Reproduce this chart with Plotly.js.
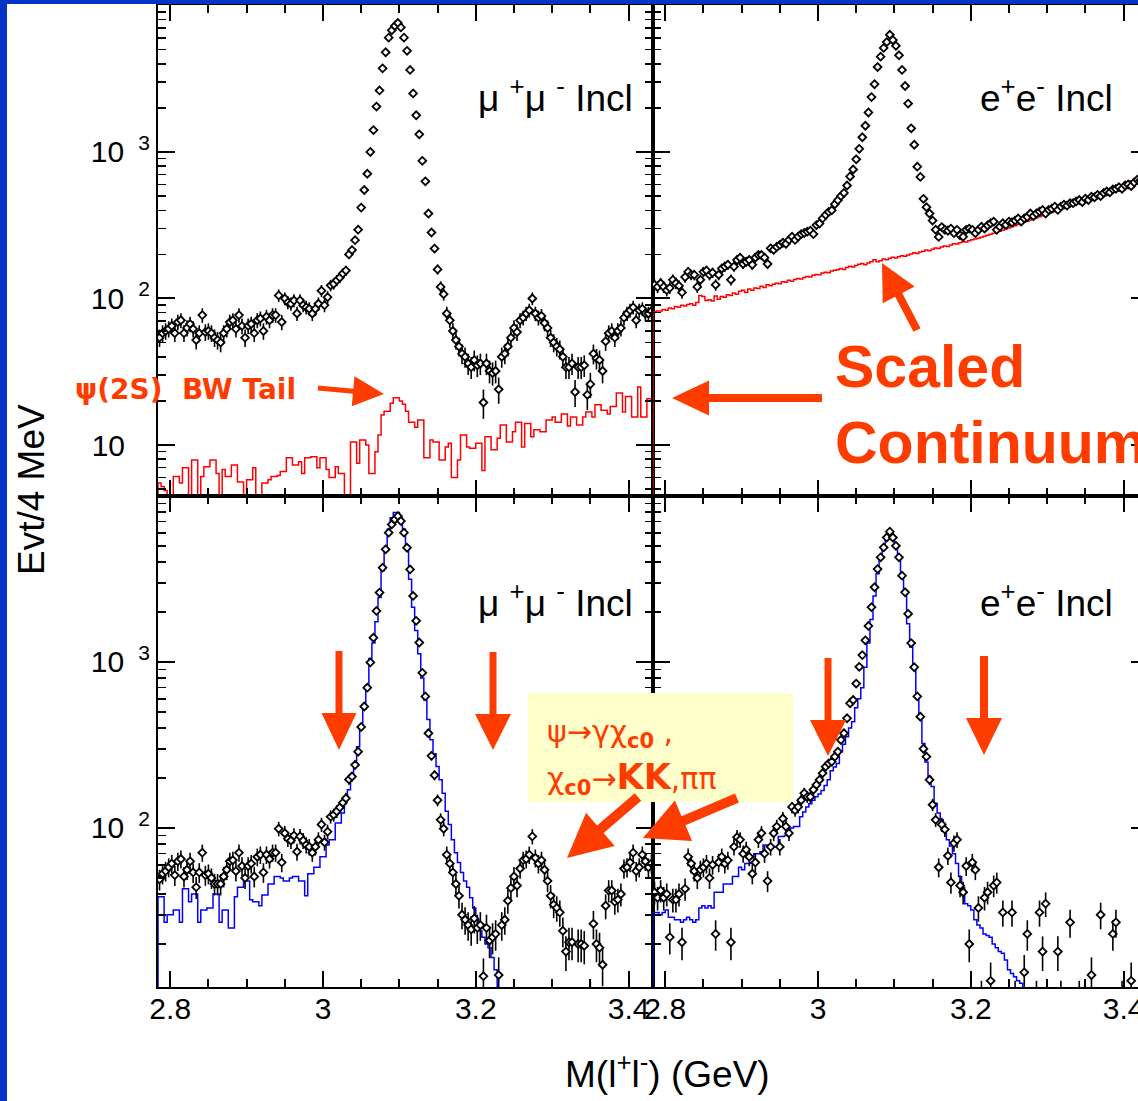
<!DOCTYPE html>
<html>
<head>
<meta charset="utf-8">
<script src="https://cdn.plot.ly/plotly-3.0.1.min.js"></script>
<style>
html,body{margin:0;padding:0;overflow:hidden;background:#ffffff;width:1138px;height:1101px;}
#chart{width:1148px;height:1101px;}
</style>
</head>
<body>
<div id="chart"></div>
<script>
// ---------- binning (4 MeV bins, first bin centre) ----------
const MASS_FIRST_BIN = 2.786;
const BIN_WIDTH = 0.004;
const HIST_FLOOR = 0.001;           // histogram drawn up from zero

// ---------- axis ticks ----------
const X_RANGE = [2.784, 3.432];
const TOP_LOG_RANGE = [0.652, 4.003];
const BOTTOM_LOG_RANGE = [1.042, 4.0];
const TOP_Y_TICKS = [10, 100, 1000];
const TOP_Y_LABELS = ['10\u00a0\u00a0\u00a0', '10\u00a0<sup>\u00a02</sup>', '10\u00a0<sup>\u00a03</sup>'];
const BOTTOM_Y_TICKS = [100, 1000];
const BOTTOM_Y_LABELS = ['10\u00a0<sup>\u00a02</sup>', '10\u00a0<sup>\u00a03</sup>'];

// ---------- top-left: mu+mu- inclusive data and scaled continuum ----------
const MUMU_DATA = [54,58,60,62,65,58,69,71,58,63,
 67,62,52,58,77,59,60,58,54,52,
 50,58,62,69,71,62,77,65,54,65,
 67,58,71,73,60,75,71,77,77,105,
 69,100,94,92,97,79,97,90,87,85,
 79,85,92,113,90,102,123,126,133,139,
 148,155,200,214,250,295,417,550,710,1000,
 1410,2040,2630,3720,4790,6030,6760,7240,7590,7080,
 6030,4900,3630,2510,1780,1320,870,630,380,282,
 219,158,120,107,79,71,60,52,47,42,
 40,36,34,38,35,36,19.5,36,32,31,
 32,24,40,42,47,54,63,59,71,74,
 79,83,100,79,74,76,68,63,54,50,
 47,45,40,34,34,36,23,34,34,35,
 22,26,42,39,38,32,51,58,60,54,
 60,63,74,79,83,87,71,83,85,79,
 79,82];
const MUMU_CONTINUUM = [5.5,5.2,4.9,4,4,6.1,6.1,5.5,7.0,7.0,
 4,7.9,7.9,4,6.1,7.1,7.1,7.9,7.9,6.4,
 4,6.8,6.1,6.1,7.3,7.3,5.6,5.6,4,5.8,
 5.8,7.0,4,4,5.5,5.5,5.8,6.1,6.1,6.2,
 6.6,6.6,8.2,8.2,7.3,7.3,7.7,6.4,8.2,8.2,
 8.3,8.3,7.0,8.2,8.2,6.8,6.0,6.0,7.1,6.4,
 6.4,4,4,10.5,10.5,7.5,10.8,10.8,10,6.4,
 6.4,9,11.7,16,17,17,19.3,21,21,20,
 19,17,14.3,14.3,13.2,14.8,14.8,8.2,8.2,10.8,
 10.5,10.5,7.9,7.9,9.7,10.3,6,6,7.9,11.7,
 11.7,9.7,9.5,9.5,10.3,10.3,6.7,11.4,11.4,9.3,
 9.3,11.1,13.7,13.7,10.5,10.5,12.3,14.3,14.3,9.7,
 14,14,11.4,12.7,12.7,12.3,12.3,14.8,14.8,15.5,
 14.3,14.3,16.3,16.3,13.5,15.5,15.5,13.7,13.7,15.5,
 16.8,16.8,15.5,18.8,18.8,17.3,17.3,16.3,18.3,18.3,
 22.6,22.6,16.8,21.4,21.4,15.5,15.5,24.9,15.5,15.5,
 20.7,20.7];

// ---------- top-right: e+e- inclusive data and scaled continuum ----------
const EE_DATA = [124,120,127,120,114,118,134,127,122,110,
 140,152,145,145,120,134,152,155,145,150,
 124,145,160,165,170,134,165,183,190,172,
 178,183,170,190,198,198,190,172,220,215,
 225,232,240,236,251,264,251,264,275,280,
 286,290,275,317,325,352,372,390,400,440,
 468,500,525,590,680,759,891,1050,1260,1510,
 1860,2370,2900,3800,4470,5130,5620,6310,5800,5300,
 4570,3630,2820,2140,1450,1120,794,676,479,420,
 380,340,295,263,307,294,290,300,279,294,
 270,264,294,300,294,279,294,309,300,315,
 326,335,294,309,326,318,335,330,340,352,
 335,352,360,380,365,380,392,402,380,402,
 410,424,402,424,437,430,447,447,460,470,
 455,480,470,495,490,510,500,525,537,530,
 555,560,575,560,590,600,585,620,646,640,
 665,680];
const EE_CONTINUUM = [81,82,82,84,83,86,85,88,87,90,
 89,91,92,90,94,105,103,97,98,96,
 104,99,103,102,106,105,109,107,112,114,
 110,116,114,118,117,121,119,124,122,125,
 127,126,130,129,133,131,135,137,136,139,
 141,140,144,146,145,149,151,150,154,156,
 157,160,158,163,166,164,168,171,173,170,
 175,178,184,178,181,186,184,188,191,189,
 193,196,194,198,201,205,203,208,210,214,
 212,217,221,219,225,228,226,232,236,235,
 240,244,243,248,252,255,258,262,266,270,
 274,279,283,288,292,298,303,309,314,320,
 325,331,337,343,349,355,361,367,373,380,
 386,393,400,406,413,420,428,437,445,455,
 464,473,482,492,502,512,521,531,541,550,
 562,573,585,597,610,622,635,648,660,672,
 685,698];

// ---------- bottom-left: mu+mu- after continuum subtraction, J/psi MC ----------
const MUMU_SUB_DATA = [49,53,55,58,61,52,63,65,51,56,
 63,54,44,54,71,52,53,50,46,46,
 46,51,56,63,64,55,71,59,50,59,
 61,51,67,69,54,69,65,71,71,99,
 62,93,86,84,90,72,89,84,79,77,
 71,77,85,105,82,95,117,120,126,133,
 142,151,196,204,240,288,406,539,700,994,
 1400,2030,2620,3700,4770,6010,6740,7220,7570,7060,
 6010,4880,3610,2500,1770,1310,860,620,372,272,
 208,147,112,99,69,61,54,46,39,30,
 28,26,24.5,28.5,25,26,12.8,25,21,22,
 23,13,26,28,36.5,43.5,51,45,57,64,
 65,69,89,66,61,64,56,48,39,34.5,
 33,31,24,18,20.5,20.5,7.5,20,20,19.5,
 5,9,26.5,20,19,15,34,42,42,36,
 37,40,57,58,62,71,55,58,69,63,
 58,61];
const MUMU_JPSI_MC = [38.5,38.5,27,30,30,32,32,27,43,43,
 36,40,40,27,32,32,33,33,40,40,
 27,32,32,25,25,38.5,44,44,48,48,
 37,36,36,34,39.5,39.5,46,46,51,51,
 50,48,48,50,51,51,48,48,39,53,
 53,58,58,67,67,79,85,85,107,107,
 123,155,170,214,240,309,400,520,720,1050,
 1300,1750,2450,3550,4800,6300,7400,7950,7950,7400,
 6300,4800,3150,2140,1550,1120,800,590,450,340,
 280,235,195,162,126,105,85,71,62,54,
 48,44,38,33,28,24,22,20,19,16.6,
 14,8];

// ---------- bottom-right: e+e- after continuum subtraction, J/psi MC ----------
const EE_SUB_DATA = [41,38,42,38,40,22,37,37,40,20.5,
 43,67,61,55,50,56,58,61,50,60,
 23,62,67,61,64,20.5,77,88,85,70,
 74,67,53,62,85,93,70,48,77,93,
 102,77,114,102,93,134,128,134,147,162,
 154,154,170,182,195,214,234,245,251,269,
 288,339,372,458,564,590,741,935,1100,1350,
 1650,2140,2820,3630,4270,4900,5620,6100,5620,5010,
 4270,3310,2630,1950,1300,930,620,468,300,269,
 195,138,112,58,105,98,68,47,81,85,
 45,41,59,20,62,56,33,9,38,41,
 12,45,47,6,31,8,5,31,9,6,
 4,13.5,23,7,5,9,31,18,35,8,
 6,4,18,9,5,7,27,8,5,9,
 6,4,8,13,5,8,30,6,4,8,
 23,27,6,9,5,7,12,5,8,6,
 4,7];
const EE_JPSI_MC = [31,31,30,31,32,29,29,28,28,27,
 28,29,28,27,28,33,34,33,34,33,
 41,41,41,46,46,46,51,51,58,56,
 61,61,62,70,70,72,79,79,78,77,
 77,89,89,90,96,100,102,102,117,125,
 134,140,147,154,160,168,180,195,221,233,
 245,288,320,354,400,437,530,600,700,930,
 1300,1800,2500,3400,4200,4900,5600,6150,5700,5000,
 4300,3400,2600,1700,1230,935,620,468,323,250,
 204,178,141,123,112,97,85,78,70,61,
 51,44,35,34,32,28,26,25,23,22.5,
 22,20,19,18,17.6,16,14,13.3,12.7,12,
 11.6,9];

// ---------- figure geometry ----------
const FIG_W = 1148, FIG_H = 1101;
const MARGIN = {l: 158, r: 0, t: 5, b: 114, pad: 0};
const PLOT_W = FIG_W - MARGIN.l - MARGIN.r;
const PLOT_H = FIG_H - MARGIN.t - MARGIN.b;
function px(x) { return (x - MARGIN.l) / PLOT_W; }
function py(y) { return (FIG_H - MARGIN.b - y) / PLOT_H; }

const ORANGE = '#ff3c00';
const TICK_FONT = {family: 'Liberation Sans, Arial, sans-serif', size: 30, color: '#000'};
const LABEL_FONT = {family: 'Liberation Sans, Arial, sans-serif', size: 37, color: '#000'};

function pointsTrace(y, xa, ya) {
  return {type: 'scatter', mode: 'markers', x0: MASS_FIRST_BIN, dx: BIN_WIDTH, y: y,
    xaxis: xa, yaxis: ya,
    marker: {symbol: 'diamond', size: 6, color: '#ffffff', line: {color: '#000', width: 1.8}},
    error_y: {type: 'sqrt', color: '#000', thickness: 1.6, width: 0},
    showlegend: false, hoverinfo: 'skip'};
}
function stepTrace(y, color, xa, ya) {
  return {type: 'scatter', mode: 'lines', x0: MASS_FIRST_BIN - BIN_WIDTH, dx: BIN_WIDTH,
    y: [HIST_FLOOR].concat(y), xaxis: xa, yaxis: ya,
    line: {shape: 'hvh', color: color, width: 1.5},
    showlegend: false, hoverinfo: 'skip'};
}

const traces = [
  stepTrace(MUMU_CONTINUUM, '#ff0000', 'x', 'y'),
  pointsTrace(MUMU_DATA, 'x', 'y'),
  stepTrace(EE_CONTINUUM, '#ff0000', 'x2', 'y2'),
  pointsTrace(EE_DATA, 'x2', 'y2'),
  stepTrace(MUMU_JPSI_MC, '#0000ff', 'x3', 'y3'),
  pointsTrace(MUMU_SUB_DATA, 'x3', 'y3'),
  stepTrace(EE_JPSI_MC, '#0000ff', 'x4', 'y4'),
  pointsTrace(EE_SUB_DATA, 'x4', 'y4')
];

function xAxis(domain, anchor, labels) {
  return {domain: domain, anchor: anchor, range: X_RANGE, showline: true, linecolor: '#000', linewidth: 2,
    mirror: 'allticks', ticks: 'inside', ticklen: 16, tickwidth: 2, tickcolor: '#000',
    tickmode: 'linear', tick0: 2.8, dtick: 0.2, showticklabels: labels, tickfont: TICK_FONT,
    ticklabelstandoff: -6,
    showgrid: false, zeroline: false, fixedrange: true,
    minor: {ticks: 'inside', ticklen: 8, tickwidth: 2, tickcolor: '#000', tick0: 2.8, dtick: 0.05, showgrid: false}};
}
function yAxis(domain, anchor, range, vals, texts, labels) {
  return {domain: domain, anchor: anchor, type: 'log', range: range, showline: true, linecolor: '#000', linewidth: 2,
    mirror: 'allticks', ticks: 'inside', ticklen: 17, tickwidth: 2, tickcolor: '#000',
    tickmode: 'array', tickvals: vals, ticktext: texts, showticklabels: labels, tickfont: TICK_FONT,
    ticklabelstandoff: 0, showgrid: false, zeroline: false, fixedrange: true,
    minor: {ticks: 'inside', ticklen: 8, tickwidth: 1.5, tickcolor: '#000', dtick: 'D1', showgrid: false}};
}

function arrowPath(tip, tail, shaftW, headLen, headW) {
  const dx = tip[0] - tail[0], dy = tip[1] - tail[1];
  const L = Math.hypot(dx, dy);
  const ux = dx / L, uy = dy / L, nx = -uy, ny = ux;
  const bx = tip[0] - ux * headLen, by = tip[1] - uy * headLen;
  const pts = [
    [tail[0] + nx * shaftW / 2, tail[1] + ny * shaftW / 2],
    [bx + nx * shaftW / 2, by + ny * shaftW / 2],
    [bx + nx * headW / 2, by + ny * headW / 2],
    tip,
    [bx - nx * headW / 2, by - ny * headW / 2],
    [bx - nx * shaftW / 2, by - ny * shaftW / 2],
    [tail[0] - nx * shaftW / 2, tail[1] - ny * shaftW / 2]
  ];
  return 'M' + pts.map(p => px(p[0]).toFixed(5) + ',' + py(p[1]).toFixed(5)).join('L') + 'Z';
}
function arrowShape(tip, tail, shaftW, headLen, headW) {
  return {type: 'path', xref: 'paper', yref: 'paper', path: arrowPath(tip, tail, shaftW, headLen, headW),
    fillcolor: ORANGE, line: {width: 0}, layer: 'above'};
}

const FRAME_BLUE = '#0433c8';
const shapes = [
  {type: 'rect', xref: 'paper', yref: 'paper', x0: px(0), x1: px(7), y0: py(FIG_H), y1: py(0),
    fillcolor: FRAME_BLUE, line: {width: 0}, layer: 'above'},
  {type: 'rect', xref: 'paper', yref: 'paper', x0: px(0), x1: px(FIG_W), y0: py(4), y1: py(0),
    fillcolor: FRAME_BLUE, line: {width: 0}, layer: 'above'},
  {type: 'rect', xref: 'paper', yref: 'paper', x0: px(528), x1: px(793), y0: py(802), y1: py(693),
    fillcolor: '#ffffcc', line: {width: 0}, layer: 'above'},
  arrowShape([384, 394], [318, 388], 5, 31, 30),
  arrowShape([672, 398], [822, 398], 8, 37, 35),
  arrowShape([882, 263], [917, 330], 8, 36, 36),
  arrowShape([339, 750], [339, 651], 7, 37, 35),
  arrowShape([493, 750], [493, 652], 7, 36, 36),
  arrowShape([828, 756], [828, 658], 7, 36, 36),
  arrowShape([984, 755], [984, 656], 8, 37, 36),
  arrowShape([567, 858], [638, 797], 10, 44, 44),
  arrowShape([643, 838], [737, 798], 10, 44, 44)
];

function note(text, x, y, xanchor, font, extra) {
  return Object.assign({xref: 'paper', yref: 'paper', x: px(x), y: py(y), xanchor: xanchor, yanchor: 'middle',
    text: text, showarrow: false, font: font, borderpad: 0}, extra || {});
}
const RED_BOLD = {family: 'DejaVu Sans, sans-serif', size: 28, color: ORANGE};
const BIG_RED = {family: 'Liberation Sans, Arial, sans-serif', size: 59, color: ORANGE};
const BOX_RED = {family: 'DejaVu Sans, sans-serif', size: 30, color: ORANGE};

const annotations = [
  note('\u03bc <sup>+</sup>\u03bc <sup>-</sup> Incl', 634, 96, 'right', LABEL_FONT),
  note('e<sup>+</sup>e<sup>-</sup> Incl', 1114, 96, 'right', LABEL_FONT),
  note('\u03bc <sup>+</sup>\u03bc <sup>-</sup> Incl', 634, 600, 'right', LABEL_FONT),
  note('e<sup>+</sup>e<sup>-</sup> Incl', 1114, 600, 'right', LABEL_FONT),
  note('<b>\u03c8(2S)  BW Tail</b>', 74, 390, 'left', RED_BOLD),
  note('<b>Scaled</b>', 834, 367, 'left', BIG_RED),
  note('<b>Continuum</b>', 834, 443, 'left', BIG_RED),
  note('\u03c8\u2192\u03b3\u03c7<sub><b>c0</b></sub> ,', 546, 733, 'left', BOX_RED),
  note('\u03c7<sub><b>c0</b></sub>\u2192<b><span style="font-size:35px">KK</span></b>,\u03c0\u03c0', 546, 778, 'left', BOX_RED),
  note('M(l<sup>+</sup>l<sup>-</sup>) (GeV)', 667, 1071, 'center', LABEL_FONT),
  note('Evt/4 MeV', 31, 490, 'center', LABEL_FONT, {textangle: -90})
];

const layout = {
  width: FIG_W, height: FIG_H, margin: MARGIN,
  paper_bgcolor: '#ffffff', plot_bgcolor: '#ffffff', showlegend: false,
  xaxis: xAxis([0, 0.5], 'y', false),
  yaxis: yAxis([0.5, 1], 'x', TOP_LOG_RANGE, TOP_Y_TICKS, TOP_Y_LABELS, true),
  xaxis2: xAxis([0.5, 1], 'y2', false),
  yaxis2: yAxis([0.5, 1], 'x2', TOP_LOG_RANGE, TOP_Y_TICKS, TOP_Y_LABELS, false),
  xaxis3: xAxis([0, 0.5], 'y3', true),
  yaxis3: yAxis([0, 0.5], 'x3', BOTTOM_LOG_RANGE, BOTTOM_Y_TICKS, BOTTOM_Y_LABELS, true),
  xaxis4: xAxis([0.5, 1], 'y4', true),
  yaxis4: yAxis([0, 0.5], 'x4', BOTTOM_LOG_RANGE, BOTTOM_Y_TICKS, BOTTOM_Y_LABELS, false),
  shapes: shapes,
  annotations: annotations
};

Plotly.newPlot('chart', traces, layout, {displayModeBar: false, staticPlot: true});
</script>
</body>
</html>
